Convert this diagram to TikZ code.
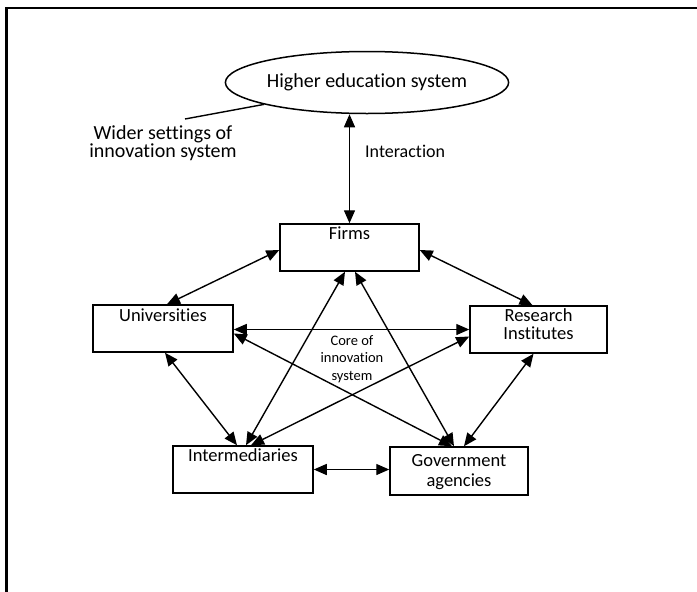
\documentclass[tikz,border=0pt]{standalone}
\usepackage{fontspec}
\setmainfont{Carlito}[Ligatures=NoCommon]
\usetikzlibrary{arrows.meta,shapes.geometric,calc}

\tikzset{
  boxtext/.style={font=\fontsize{18.5}{18}\selectfont, anchor=base, inner sep=0pt},
  stagebox/.style={draw, line width=1.5pt, inner sep=0pt, minimum width=139pt, minimum height=47pt},
  link/.style={line width=1.4pt, {Triangle[length=13pt,width=11pt]}-{Triangle[length=13pt,width=11pt]}},
}

\begin{document}
\begin{tikzpicture}[x=1pt,y=-1pt]
  \useasboundingbox (0,0) rectangle (697,592);

  % open frame: top and left edges only
  \draw[line width=2.4pt] (697,8) -- (6.5,8) -- (6.5,592);

  % wider setting
  \node[draw, ellipse, line width=1.5pt, minimum width=274pt, minimum height=62pt,
        inner sep=0pt, font=\fontsize{20}{20}\selectfont] (hes) at (367,82.5) {Higher education system};
  \node[align=center, inner sep=0pt, font=\fontsize{20}{17}\selectfont] (wider) at (163,143.5)
       {Wider settings of\\innovation system};
  \coordinate (widertip) at (185,119);
  \draw[line width=1.4pt] (widertip) -- (hes.192);

  % core actors
  \node[stagebox] (firms) at (349.5,247.5) {};
  \node[stagebox, minimum width=140pt] (univ) at (163,328.5) {};
  \node[stagebox, minimum width=137pt] (res) at (538.5,329.5) {};
  \node[stagebox, minimum width=140pt] (inter) at (243,469.5) {};
  \node[stagebox, minimum width=138pt, minimum height=48pt] (gov) at (459,471) {};

  \node[boxtext] (firmsT) at ($(firms.north)+(0,16)$) {Firms};
  \node[boxtext] (univT) at ($(univ.north)+(0,17)$) {Universities};
  \node[boxtext] (resT1) at ($(res.north)+(0,16)$) {Research};
  \node[boxtext] (resT2) at ($(res.north)+(0,34)$) {Institutes};
  \node[boxtext] (interT) at ($(inter.north)+(0,16)$) {Intermediaries};
  \node[boxtext] (govT1) at ($(gov.north)+(0,20)$) {Government};
  \node[boxtext] (govT2) at ($(gov.north)+(0,40)$) {agencies};

  \node[align=center, inner sep=0pt, font=\fontsize{14.5}{17.5}\selectfont] (core) at (352,359)
       {Core of\\innovation\\system};

  % interaction with the higher education system
  \draw[link] (firms.north |- hes.south) -- (firms.north);
  \node[anchor=base west, inner sep=0pt, font=\fontsize{18}{18}\selectfont] (interlabel) at (365,157) {Interaction};

  % links inside the core
  \draw[link] ($(firms.west)+(0,2.5)$) -- ($(univ.north)+(4,0)$);
  \draw[link] ($(firms.east)+(0,2.5)$) -- ($(res.north)+(-6,0)$);
  \draw[link] ($(univ.east)+(0,1)$) -- ($(res.west)+(0,0)$);
  \draw[link] ($(firms.south)+(-4.5,0)$) -- ($(inter.north)+(3,0)$);
  \draw[link] ($(firms.south)+(5.5,0)$) -- ($(gov.north)+(-5,0)$);
  \draw[link] ($(univ.east)+(0,5)$) -- ($(gov.north)+(-7,0)$);
  \draw[link] ($(res.west)+(0,7)$) -- ($(inter.north)+(8,0)$);
  \draw[link] ($(univ.south)+(2,0)$) -- ($(inter.north)+(-6,0)$);
  \draw[link] ($(res.south)+(-5,0)$) -- ($(gov.north)+(5,0)$);
  \draw[link] (inter.east) -- (inter.east -| gov.west);
\end{tikzpicture}
\end{document}
